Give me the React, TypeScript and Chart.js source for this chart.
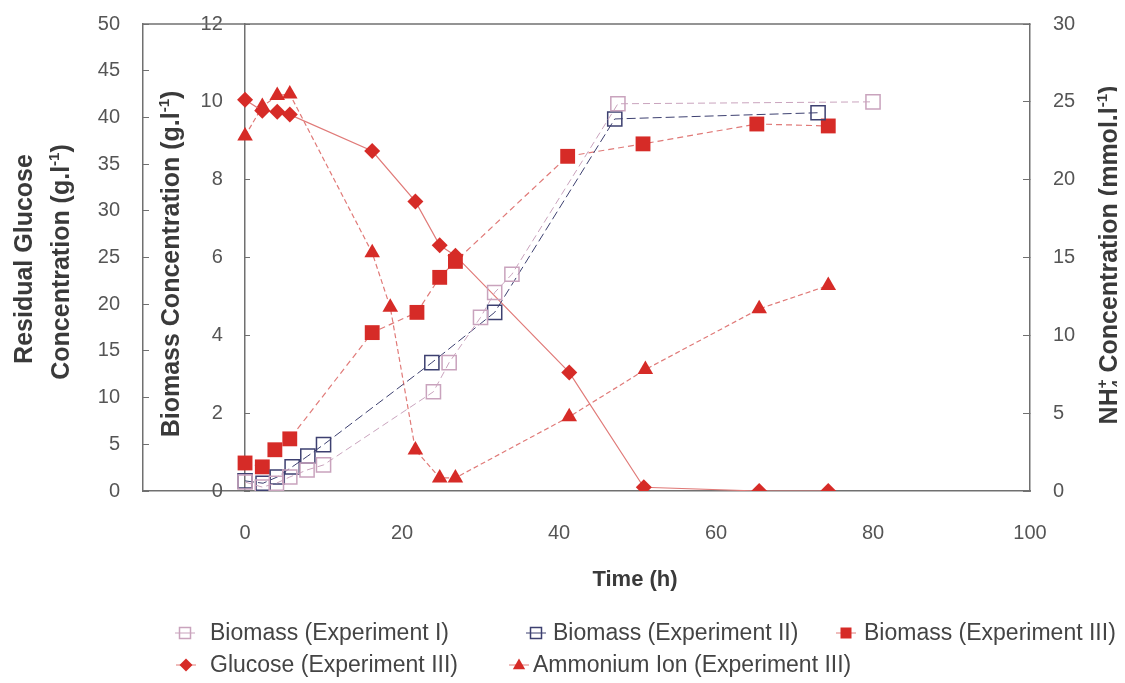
import React, { useEffect, useRef } from 'react';
import { Chart, registerables } from 'chart.js';

Chart.register(...registerables);

// Sampling times (h) and measured values for each series
const TIME_EXP1 = [0, 2.2, 4, 5.7, 7.9, 10, 24, 26, 30, 31.8, 34, 47.5, 80];
const BIOMASS_EXP1 = [0.23, 0.1, 0.2, 0.36, 0.54, 0.67, 2.55, 3.3, 4.46, 5.1, 5.57, 9.95, 10.0];

const TIME_EXP2 = [0, 2.3, 4.1, 6, 8, 10, 23.8, 31.8, 47.1, 73];
const BIOMASS_EXP2 = [0.26, 0.2, 0.36, 0.62, 0.9, 1.19, 3.3, 4.59, 9.56, 9.72];

const TIME_EXP3 = [0, 2.2, 3.8, 5.7, 16.2, 21.9, 24.8, 26.8, 41.1, 50.7, 65.2, 74.3];
const BIOMASS_EXP3 = [0.72, 0.62, 1.06, 1.34, 4.07, 4.59, 5.49, 5.9, 8.6, 8.92, 9.43, 9.38];

const TIME_GLUCOSE = [0, 2.2, 4.1, 5.7, 16.2, 21.7, 24.8, 26.8, 41.3, 50.8, 65.5, 74.3];
const GLUCOSE_EXP3 = [41.9, 40.7, 40.6, 40.3, 36.4, 31.0, 26.3, 25.2, 12.7, 0.4, 0, 0];

const TIME_AMMONIUM = [0, 2.2, 4.1, 5.7, 16.2, 18.5, 21.7, 24.8, 26.8, 41.3, 51, 65.5, 74.3];
const AMMONIUM_EXP3 = [22.8, 24.7, 25.4, 25.5, 15.3, 11.8, 2.64, 0.84, 0.84, 4.77, 7.8, 11.7, 13.2];

// Axis tick values
const TIME_TICKS = [0, 20, 40, 60, 80, 100];
const GLUCOSE_TICKS = [0, 5, 10, 15, 20, 25, 30, 35, 40, 45, 50];
const BIOMASS_TICKS = [0, 2, 4, 6, 8, 10, 12];
const AMMONIUM_TICKS = [0, 5, 10, 15, 20, 25, 30];

const SERIES_LABELS = [
  'Biomass (Experiment I)',
  'Biomass (Experiment II)',
  'Biomass (Experiment III)',
  'Glucose (Experiment III)',
  'Ammonium Ion (Experiment III)',
];

const FONT = '"Liberation Sans", Arial, Helvetica, sans-serif';
const AXIS = '#707070';
const TICK = '#555555';
const TITLE = '#3a3a3a';
const RED = '#d62b27';
const RED_LINE = '#e07a78';
const LIGHT = '#c9a3bd';
const DARK = '#3d4070';

const W = 1109;
const H = 675;

type Seg = { t: string; k?: 'sup' | 'sub' | 'stack'; t2?: string };

function drawRich(
  ctx: CanvasRenderingContext2D,
  segs: Seg[],
  cx: number,
  cy: number,
  size: number,
  weight: string,
  angle: number,
) {
  const small = Math.round(size * 0.6);
  const big = `${weight} ${size}px ${FONT}`;
  const sm = `${weight} ${small}px ${FONT}`;
  ctx.save();
  ctx.translate(cx, cy);
  ctx.rotate(angle);
  ctx.textAlign = 'left';
  ctx.textBaseline = 'alphabetic';
  ctx.fillStyle = TITLE;
  const widths = segs.map((s) => {
    if (!s.k) {
      ctx.font = big;
      return ctx.measureText(s.t).width;
    }
    ctx.font = sm;
    if (s.k === 'stack') return Math.max(ctx.measureText(s.t).width, ctx.measureText(s.t2 || '').width);
    return ctx.measureText(s.t).width;
  });
  const total = widths.reduce((a, b) => a + b, 0);
  let x = -total / 2;
  const base = size * 0.36;
  segs.forEach((s, i) => {
    if (!s.k) {
      ctx.font = big;
      ctx.fillText(s.t, x, base);
    } else {
      ctx.font = sm;
      if (s.k === 'sup') ctx.fillText(s.t, x, base - size * 0.4);
      if (s.k === 'sub') ctx.fillText(s.t, x, base + size * 0.18);
      if (s.k === 'stack') {
        ctx.fillText(s.t, x, base + size * 0.18);
        ctx.fillText(s.t2 || '', x, base - size * 0.4);
      }
    }
    x += widths[i];
  });
  ctx.restore();
}

function marker(ctx: CanvasRenderingContext2D, kind: string, x: number, y: number, r: number, fill: string | null, stroke: string) {
  ctx.beginPath();
  if (kind === 'rect') {
    ctx.rect(x - r, y - r, 2 * r, 2 * r);
  } else if (kind === 'rectRot') {
    ctx.moveTo(x, y - r);
    ctx.lineTo(x + r, y);
    ctx.lineTo(x, y + r);
    ctx.lineTo(x - r, y);
    ctx.closePath();
  } else {
    ctx.moveTo(x, y - r);
    ctx.lineTo(x + r * 0.95, y + r * 0.65);
    ctx.lineTo(x - r * 0.95, y + r * 0.65);
    ctx.closePath();
  }
  if (fill) {
    ctx.fillStyle = fill;
    ctx.fill();
  } else {
    ctx.strokeStyle = stroke;
    ctx.lineWidth = 1.5;
    ctx.stroke();
  }
}

// Legend layout: marker centre and text start, per row
const LEGEND_ROWS = [625, 657];
const LEGEND_SLOTS = [
  { row: 0, mx: 177, tx: 202 },
  { row: 0, mx: 528, tx: 545 },
  { row: 0, mx: 838, tx: 856 },
  { row: 1, mx: 178, tx: 202 },
  { row: 1, mx: 511, tx: 525 },
];

const decorPlugin = {
  id: 'decor',
  afterDraw(chart: any) {
    const { ctx, chartArea } = chart;
    ctx.save();
    // top frame line
    ctx.strokeStyle = AXIS;
    ctx.lineWidth = 1.5;
    ctx.beginPath();
    ctx.moveTo(chartArea.left, chartArea.top);
    ctx.lineTo(chartArea.right, chartArea.top);
    ctx.stroke();

    // axis titles
    const up = -Math.PI / 2;
    drawRich(ctx, [{ t: 'Residual Glucose' }], 15, 251, 25, 'bold', up);
    drawRich(ctx, [{ t: 'Concentration (g.l' }, { t: '-1', k: 'sup' }, { t: ')' }], 52, 254, 25, 'bold', up);
    drawRich(ctx, [{ t: 'Biomass Concentration (g.l' }, { t: '-1', k: 'sup' }, { t: ')' }], 162, 256, 25, 'bold', up);
    drawRich(
      ctx,
      [{ t: 'NH' }, { t: '4', k: 'stack', t2: '+' }, { t: ' Concentration (mmol.l' }, { t: '-1', k: 'sup' }, { t: ')' }],
      1100,
      247,
      25,
      'bold',
      up,
    );
    drawRich(ctx, [{ t: 'Time (h)' }], 627, 570, 22, 'bold', 0);

    // legend
    chart.data.datasets.forEach((ds: any, i: number) => {
      const slot = LEGEND_SLOTS[i];
      const y = LEGEND_ROWS[slot.row];
      ctx.strokeStyle = ds.borderColor;
      ctx.lineWidth = 1;
      ctx.setLineDash([]);
      ctx.beginPath();
      ctx.moveTo(slot.mx - 10, y);
      ctx.lineTo(slot.mx + 10, y);
      ctx.stroke();
      const filled = ds.pointBackgroundColor !== 'rgba(255,255,255,0)';
      const r = ds.pointStyle === 'rect' ? 5.5 : 6.5;
      marker(ctx, ds.pointStyle, slot.mx, y, r, filled ? ds.pointBackgroundColor : null, ds.pointBorderColor);
      ctx.font = `23px ${FONT}`;
      ctx.fillStyle = '#444444';
      ctx.textAlign = 'left';
      ctx.textBaseline = 'middle';
      ctx.fillText(ds.label, slot.tx, y + 1);
    });
    ctx.restore();
  },
};

const pts = (xs: number[], ys: number[]) => xs.map((x, i) => ({ x, y: ys[i] }));

const tickFont = { family: FONT, size: 20 };

// vertical axes must not push the plot area down with their label padding
const noPad = (s: any) => {
  s.paddingTop = 0;
  s.paddingBottom = 0;
};

export default function App() {
  const ref = useRef<HTMLCanvasElement | null>(null);

  useEffect(() => {
    if (!ref.current) return;
    const chart = new Chart(ref.current, {
      type: 'scatter',
      data: {
        datasets: [
          {
            label: SERIES_LABELS[0],
            data: pts(TIME_EXP1, BIOMASS_EXP1),
            yAxisID: 'yB',
            showLine: true,
            borderColor: LIGHT,
            borderWidth: 1,
            borderDash: [7, 4],
            pointStyle: 'rect',
            pointRadius: 10,
            pointBorderColor: LIGHT,
            pointBackgroundColor: 'rgba(255,255,255,0)',
            pointBorderWidth: 1.5,
          },
          {
            label: SERIES_LABELS[1],
            data: pts(TIME_EXP2, BIOMASS_EXP2),
            yAxisID: 'yB',
            showLine: true,
            borderColor: DARK,
            borderWidth: 1,
            borderDash: [9, 4],
            pointStyle: 'rect',
            pointRadius: 10,
            pointBorderColor: DARK,
            pointBackgroundColor: 'rgba(255,255,255,0)',
            pointBorderWidth: 1.5,
          },
          {
            label: SERIES_LABELS[2],
            data: pts(TIME_EXP3, BIOMASS_EXP3),
            yAxisID: 'yB',
            showLine: true,
            borderColor: RED_LINE,
            borderWidth: 1.2,
            borderDash: [6, 4],
            pointStyle: 'rect',
            pointRadius: 10.5,
            pointBorderColor: RED,
            pointBackgroundColor: RED,
            pointBorderWidth: 0,
          },
          {
            label: SERIES_LABELS[3],
            data: pts(TIME_GLUCOSE, GLUCOSE_EXP3),
            yAxisID: 'yG',
            showLine: true,
            borderColor: RED_LINE,
            borderWidth: 1.2,
            pointStyle: 'rectRot',
            pointRadius: 8,
            pointBorderColor: RED,
            pointBackgroundColor: RED,
            pointBorderWidth: 0,
          },
          {
            label: SERIES_LABELS[4],
            data: pts(TIME_AMMONIUM, AMMONIUM_EXP3),
            yAxisID: 'yN',
            showLine: true,
            borderColor: RED_LINE,
            borderWidth: 1.2,
            borderDash: [5, 3],
            pointStyle: 'triangle',
            pointRadius: 9,
            pointBorderColor: RED,
            pointBackgroundColor: RED,
            pointBorderWidth: 0,
          },
        ],
      },
      options: {
        responsive: false,
        animation: false,
        devicePixelRatio: 1,
        layout: { padding: { top: 16, left: 0, right: 0, bottom: 0 } },
        plugins: { legend: { display: false }, tooltip: { enabled: false } },
        scales: {
          x: {
            type: 'linear',
            position: 'bottom',
            min: -13,
            max: 100,
            afterBuildTicks: (s: any) => {
              s.ticks = TIME_TICKS.map((v) => ({ value: v }));
            },
            afterFit: (s: any) => {
              s.height = H - 483;
            },
            grid: { drawOnChartArea: false, drawTicks: false },
            border: { color: AXIS, width: 1.5 },
            ticks: { padding: 30, font: tickFont, color: TICK, maxRotation: 0 },
          },
          yG: {
            type: 'linear',
            position: 'left',
            min: 0,
            max: 50,
            afterBuildTicks: (s: any) => {
              s.ticks = GLUCOSE_TICKS.map((v) => ({ value: v }));
            },
            afterFit: (s: any) => {
              s.width = 135;
              noPad(s);
            },
            grid: { drawOnChartArea: false, tickLength: -6, color: AXIS },
            border: { color: AXIS, width: 1.5 },
            ticks: { padding: 29, font: tickFont, color: TICK },
          },
          yB: {
            type: 'linear',
            position: { x: 0 },
            min: 0,
            max: 12,
            afterBuildTicks: (s: any) => {
              s.ticks = BIOMASS_TICKS.map((v) => ({ value: v }));
            },
            afterFit: noPad,
            grid: { drawOnChartArea: false, tickLength: -6, color: AXIS },
            border: { color: AXIS, width: 1.5 },
            ticks: { padding: 19, font: tickFont, color: TICK, callback: (v: any) => `${v}    ` },
          },
          yN: {
            type: 'linear',
            position: 'right',
            min: 0,
            max: 30,
            afterBuildTicks: (s: any) => {
              s.ticks = AMMONIUM_TICKS.map((v) => ({ value: v }));
            },
            afterFit: (s: any) => {
              s.width = W - 1022;
              noPad(s);
            },
            grid: { drawOnChartArea: false, tickLength: -7, color: AXIS },
            border: { color: AXIS, width: 1.5 },
            ticks: { padding: 30, font: tickFont, color: TICK },
          },
        },
      },
      plugins: [decorPlugin],
    } as any);
    return () => chart.destroy();
  }, []);

  return (
    <div style={{ width: W, height: H }}>
      <canvas ref={ref} width={W} height={H} style={{ display: 'block' }} />
    </div>
  );
}
